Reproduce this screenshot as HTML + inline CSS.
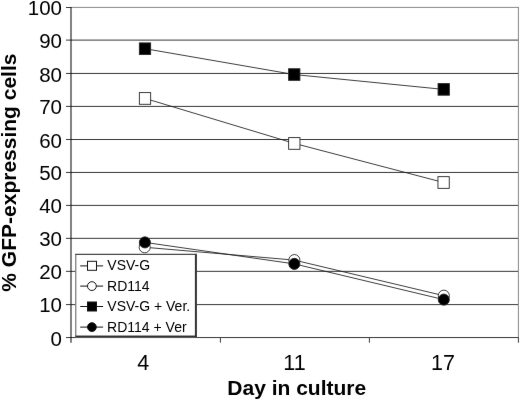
<!DOCTYPE html>
<html><head><meta charset="utf-8">
<style>
html,body{margin:0;padding:0;background:#fff;}
body{width:520px;height:402px;overflow:hidden;font-family:"Liberation Sans",sans-serif;}
svg{display:block;}
</style></head><body>
<svg width="520" height="402" viewBox="0 0 520 402" role="img" aria-label="Line chart: % GFP-expressing cells by day in culture">
<defs>
<filter id="bl" x="0" y="0" width="520" height="402" filterUnits="userSpaceOnUse" color-interpolation-filters="sRGB"><feConvolveMatrix order="3" kernelMatrix="0.00137 0.03432 0.00137 0.03432 0.85721 0.03432 0.00137 0.03432 0.00137" edgeMode="duplicate" preserveAlpha="true"/></filter>
</defs>
<rect width="520" height="402" fill="#fff"/>
<g filter="url(#bl)">
<rect x="-5" y="-5" width="530" height="412" fill="#fff"/>
<g stroke="#383838" stroke-width="1" fill="none">
<line x1="66" y1="40.1" x2="518.2" y2="40.1"/>
<line x1="66" y1="73.45" x2="518.2" y2="73.45"/>
<line x1="66" y1="106.4" x2="518.2" y2="106.4"/>
<line x1="66" y1="139.5" x2="518.2" y2="139.5"/>
<line x1="66" y1="172.45" x2="518.2" y2="172.45"/>
<line x1="66" y1="205.4" x2="518.2" y2="205.4"/>
<line x1="66" y1="238.35" x2="518.2" y2="238.35"/>
<line x1="66" y1="271.35" x2="518.2" y2="271.35"/>
<line x1="66" y1="304.6" x2="518.2" y2="304.6"/>
<line x1="66" y1="337.55" x2="518.9" y2="337.55"/>
<line x1="66" y1="7.5" x2="71.5" y2="7.5"/>
</g>
<g stroke="#888888" stroke-width="1" fill="none">
<line x1="71.5" y1="7.4" x2="518.9" y2="7.4"/>
<line x1="518.4" y1="7" x2="518.4" y2="337.5"/>
</g>
<g stroke="#3c3c3c" stroke-width="1" fill="none">
<line x1="71" y1="7" x2="71" y2="342.7" stroke="#080808" stroke-width="1.02"/>
<line x1="220.4" y1="337.5" x2="220.4" y2="342.7"/>
<line x1="369.4" y1="337.5" x2="369.4" y2="342.7"/>
<line x1="518.4" y1="337.5" x2="518.4" y2="342.7"/>
</g>
<g stroke="#1c1c1c" stroke-width="0.85" fill="none">
<polyline points="145,48.7 294.3,74.55 443.7,89.4"/>
<polyline points="145,98.4 294.3,143.4 443.6,182.5"/>
<polyline points="144.7,247.25 294.35,260.1 443.8,295.7"/>
<polyline points="144.9,242.4 294.35,263.9 443.8,299.6"/>
</g>
<g stroke="#262626" stroke-width="0.9">
<rect x="139.35" y="92.6" width="11.3" height="11.7" fill="#fff"/>
<rect x="288.65" y="137.6" width="11.3" height="11.7" fill="#fff"/>
<rect x="437.95" y="176.65" width="11.3" height="11.7" fill="#fff"/>
<rect x="139.35" y="42.9" width="11.3" height="11.6" fill="#000"/>
<rect x="288.6" y="68.75" width="11.3" height="11.6" fill="#000"/>
<rect x="438.05" y="83.6" width="11.3" height="11.6" fill="#000"/>
<circle cx="144.7" cy="247.25" r="5.55" fill="#fff"/>
<circle cx="294.35" cy="260.1" r="5.55" fill="#fff"/>
<circle cx="443.8" cy="295.7" r="5.55" fill="#fff"/>
<circle cx="144.9" cy="242.4" r="5.55" fill="#000"/>
<circle cx="294.35" cy="263.9" r="5.55" fill="#000"/>
<circle cx="443.8" cy="299.6" r="5.55" fill="#000"/>
</g>
<rect x="75.3" y="253.9" width="121.6" height="83.3" fill="#fff"/>
<rect x="75.3" y="335.55" width="121.6" height="1.7" fill="#303030"/>
<rect x="194.9" y="253.9" width="2" height="83.3" fill="#333"/>
<line x1="75.8" y1="253.9" x2="75.8" y2="337" stroke="#5c5c5c" stroke-width="1"/>
<line x1="75.3" y1="254.4" x2="196.9" y2="254.4" stroke="#4a4a4a" stroke-width="1.2"/>
<g stroke="#141414" stroke-width="1">
<line x1="80.2" y1="265.9" x2="103.1" y2="265.9"/>
<line x1="80.2" y1="286.1" x2="103.1" y2="286.1"/>
<line x1="80.2" y1="306.5" x2="103.1" y2="306.5"/>
<line x1="80.2" y1="327.1" x2="103.1" y2="327.1"/>
<rect x="87.5" y="261.3" width="9" height="9" fill="#fff"/>
<circle cx="91.9" cy="286.1" r="4.4" fill="#fff"/>
<rect x="87.5" y="302" width="9" height="9" fill="#000"/>
<circle cx="91.9" cy="327.1" r="4.4" fill="#000"/>
</g>
<g fill="#000" stroke="none" font-family="'Liberation Sans', sans-serif">
<g font-size="14px">
<text x="107.3" y="270.15">VSV-G</text>
<text x="107.1" y="291.2">RD114</text>
<text x="107.3" y="311.15">VSV-G + Ver.</text>
<text x="107.1" y="331.5">RD114 + Ver</text>
</g>
<g font-size="20.5px" text-anchor="end">
<text x="62" y="14.9">100</text>
<text x="62" y="48.2">90</text>
<text x="62" y="81.55">80</text>
<text x="62" y="114.3">70</text>
<text x="62" y="147.7">60</text>
<text x="62" y="180.45">50</text>
<text x="62" y="213.4">40</text>
<text x="62" y="246.35">30</text>
<text x="62" y="279.35">20</text>
<text x="62" y="312.4">10</text>
<text x="62" y="345.7">0</text>
</g>
<g font-size="21.5px" text-anchor="middle">
<text x="143.35" y="369.55">4</text>
<text x="294.5" y="369.55">11</text>
<text x="443" y="369.55">17</text>
</g>
<text x="296.75" y="395" font-size="21px" font-weight="bold" text-anchor="middle">Day in culture</text>
<text transform="translate(16.45,172.6) rotate(-90)" font-size="21px" font-weight="bold" text-anchor="middle">% GFP-expressing cells</text>
</g>
</g>
</svg>
</body></html>
